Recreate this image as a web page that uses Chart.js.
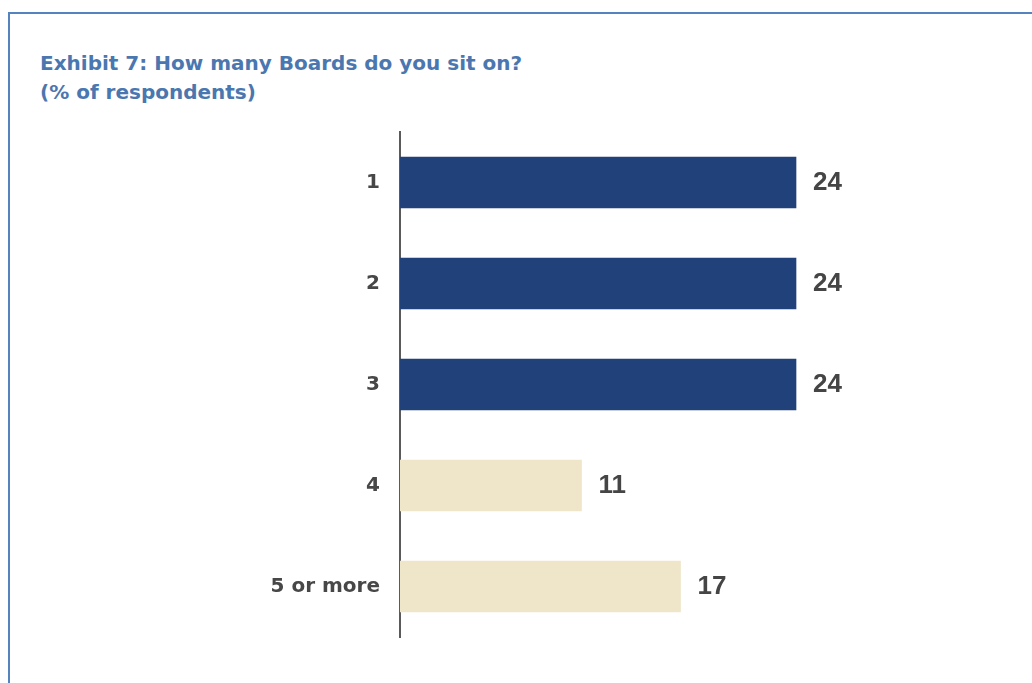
<!DOCTYPE html>
<html>
<head>
<meta charset="utf-8">
<script src="https://cdn.jsdelivr.net/npm/chart.js@4"></script>
<style>
  html, body { margin: 0; padding: 0; background: #fff; }
  body { width: 1032px; height: 683px; position: relative; overflow: hidden; }
  .frame {
    position: absolute; left: 8px; top: 12px; right: 0; bottom: 0;
    border-top: 2px solid #5583bd; border-left: 2px solid #5583bd;
  }
  .title {
    position: absolute; left: 40px; top: 49px;
    font: bold 20px "DejaVu Sans", sans-serif; color: #4a77b0;
    line-height: 29px;
  }
  #chart { position: absolute; left: 0; top: 0; }
</style>
</head>
<body>
<div class="frame"></div>
<div class="title">Exhibit 7: How many Boards do you sit on?<br>(% of respondents)</div>
<canvas id="chart" width="1032" height="683"></canvas>

<script>
// =========================
// DATA
// =========================

const categories = ["1", "2", "3", "4", "5 or more"];
const shares = [24, 24, 24, 11, 17];
const barColors = ["#21417a", "#21417a", "#21417a", "#efe6c9", "#efe6c9"];


// =========================
// VALUE LABELS AT BAR ENDS
// =========================

const valueLabels = {
  id: "valueLabels",
  afterDatasetsDraw(chart) {
    const ctx = chart.ctx;
    const meta = chart.getDatasetMeta(0);
    ctx.save();
    ctx.font = "bold 26px 'Liberation Sans', sans-serif";
    ctx.fillStyle = "#454545";
    ctx.textAlign = "left";
    ctx.textBaseline = "middle";
    meta.data.forEach((bar, i) => {
      ctx.fillText(String(shares[i]), bar.x + 17, bar.y);
    });
    ctx.restore();
  }
};


// =========================
// RENDER
// =========================

new Chart(document.getElementById("chart"), {
  type: "bar",
  data: {
    labels: categories,
    datasets: [{
      data: shares,
      backgroundColor: barColors,
      barThickness: 51
    }]
  },
  options: {
    indexAxis: "y",
    responsive: false,
    animation: false,
    layout: { padding: { top: 132, bottom: 46, right: 137, left: 0 } },
    plugins: {
      legend: { display: false },
      tooltip: { enabled: false },
      title: { display: false }
    },
    scales: {
      x: { display: false, min: 0, max: 30 },
      y: {
        afterFit: s => { s.width = 400; },
        grid: { display: false, drawTicks: false },
        border: { display: true, color: "#5a5a5a", width: 2 },
        ticks: {
          padding: 20,
          color: "#474747",
          font: { family: "DejaVu Sans", size: 20, weight: "bold" }
        }
      }
    }
  },
  plugins: [valueLabels]
});
</script>
</body>
</html>
